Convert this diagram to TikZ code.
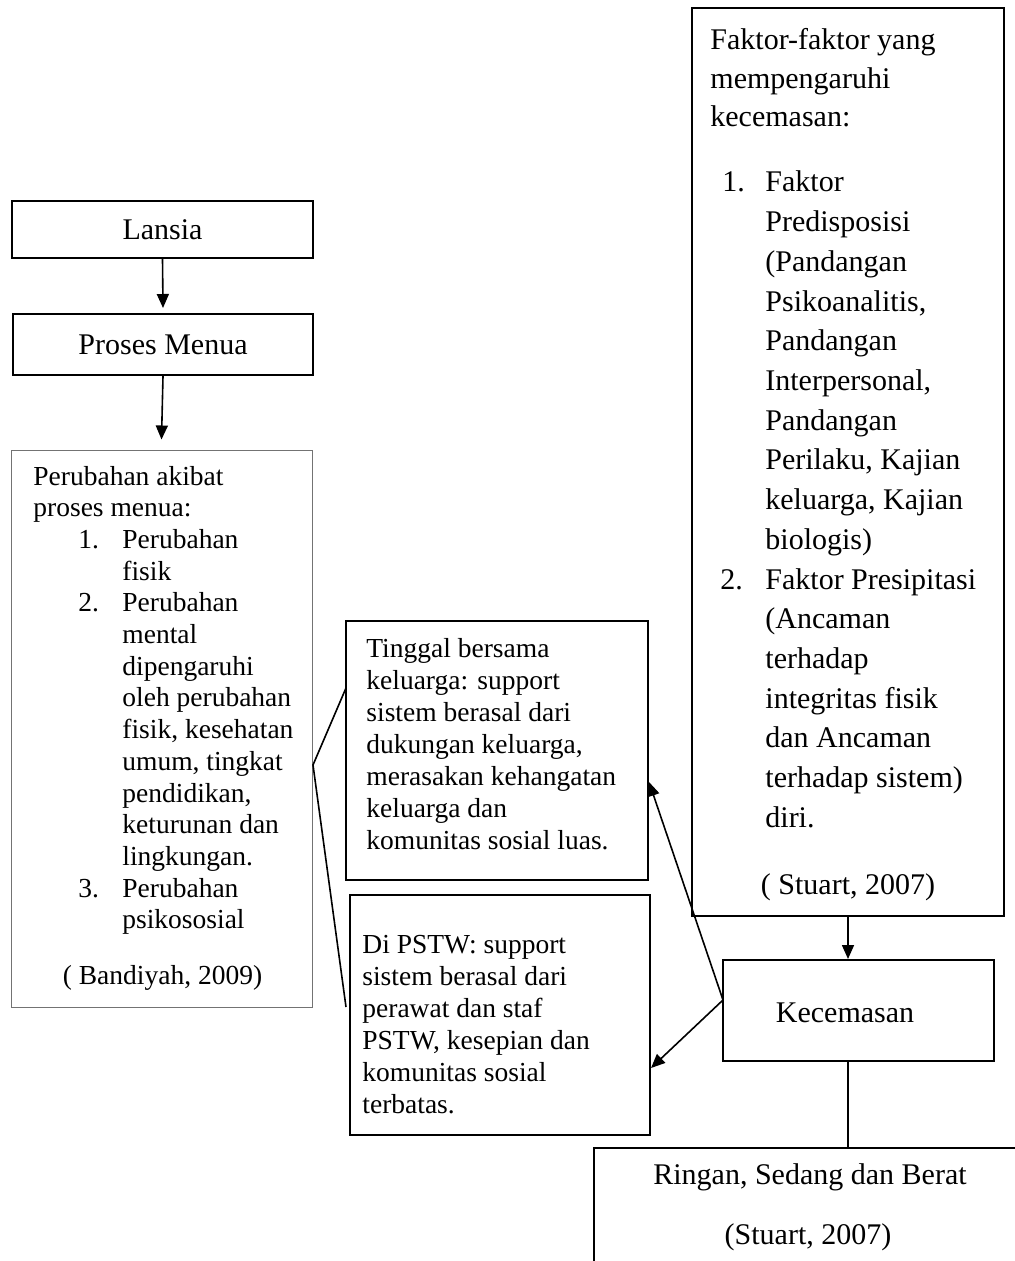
\documentclass[tikz,border=0pt]{standalone}
\usepackage{fontspec}
\setmainfont{Liberation Serif}
\usetikzlibrary{arrows.meta}
\begin{document}
\begin{tikzpicture}[x=0.5pt,y=-0.5pt,
  box/.style={draw, line width=1pt, inner sep=0pt},
  thinbox/.style={draw=black!55, line width=0.5pt, inner sep=0pt},
  small/.style={font=\fontsize{13.75pt}{16pt}\selectfont, inner sep=0pt},
  large/.style={font=\fontsize{15pt}{19pt}\selectfont, inner sep=0pt},
  arr/.style={line width=0.8pt, -{Triangle[length=7pt,width=6pt]}},
  ln/.style={line width=0.8pt}]
\useasboundingbox (0,0) rectangle (1015,1261);
\fill[white] (0,0) rectangle (1015,1261);

% boxes
\node[box, large, minimum width=150.5pt, minimum height=28.5pt] (lansia) at (162.5,229.5) {Lansia};
\node[box, large, minimum width=150pt, minimum height=30.5pt] (proses) at (163,344.5) {Proses Menua};
\node[thinbox, minimum width=150.5pt, minimum height=278.5pt] (perub) at (161.5,728.5) {};
\node[box, minimum width=151pt, minimum height=129.5pt] (tinggal) at (497,750.5) {};
\node[box, minimum width=150pt, minimum height=120pt] (pstw) at (500,1015) {};
\node[box, minimum width=156pt, minimum height=454pt] (faktor) at (848,462) {};
\node[box, minimum width=135.5pt, minimum height=50.5pt] (kecem) at (858.5,1010.5) {};
\node[box, minimum width=223pt, minimum height=76pt] (ringan) at (817,1224) {};

% left box text
\foreach \t [count=\i from 0] in {Perubahan akibat, proses menua:}
  \node[small, anchor=base west] (pa\i) at (33,485+31.7*\i) {\t};
\foreach \t [count=\i from 2] in {Perubahan, fisik, Perubahan, mental, dipengaruhi, oleh perubahan, {fisik, kesehatan}, {umum, tingkat}, {pendidikan,}, keturunan dan, lingkungan., Perubahan, psikososial}
  \node[small, anchor=base west] (pb\i) at (122,485+31.7*\i) {\t};
\node[small, anchor=base west] (n1) at (78,485+31.7*2) {1.};
\node[small, anchor=base west] (n2) at (78,485+31.7*4) {2.};
\node[small, anchor=base west] (n3) at (78,485+31.7*13) {3.};
\node[small, anchor=base] (band) at (162.5,984) {( Bandiyah, 2009)};

% tinggal box text
\foreach \t [count=\i from 0] in {Tinggal bersama, keluarga: support, sistem berasal dari, {dukungan keluarga,}, merasakan kehangatan, keluarga dan, komunitas sosial luas.}
  \node[small, anchor=base west] (tg\i) at (366,657+32*\i) {\t};

% pstw box text
\foreach \t [count=\i from 0] in {Di PSTW: support, sistem berasal dari, perawat dan staf, {PSTW, kesepian dan}, komunitas sosial, terbatas.}
  \node[small, anchor=base west] (ps\i) at (362,953+32*\i) {\t};

% right box text
\foreach \t [count=\i from 0] in {Faktor-faktor yang, mempengaruhi, kecemasan:}
  \node[large, anchor=base west] (fh\i) at (710,50+38.5*\i) {\t};
\foreach \t [count=\i from 0] in {Faktor, Predisposisi, {(Pandangan}, {Psikoanalitis,}, Pandangan, {Interpersonal,}, Pandangan, {Perilaku, Kajian}, {keluarga, Kajian}, {biologis)}, Faktor Presipitasi, {(Ancaman}, terhadap, integritas fisik, dan Ancaman, {terhadap sistem)}, diri.}
  \node[large, anchor=base west] (fl\i) at (765,192+39.7*\i) {\t};
\node[large, anchor=base west] (m1) at (722,192) {1.};
\node[large, anchor=base west] (m2) at (720,192+39.7*10) {2.};
\node[large, anchor=base] (st1) at (848,894) {( Stuart, 2007)};

% kecemasan and ringan text
\node[large] (kt) at (845,1013) {Kecemasan};
\node[large] (rt1) at (810,1177) {Ringan, Sedang dan Berat};
\node[large] (rt2) at (808,1237) {(Stuart, 2007)};

% connectors
\draw[arr] (lansia.south) -- ([yshift=2.5pt]proses.north);
\draw[arr] (proses.south) -- ([yshift=5pt]perub.north);
\draw[arr] (faktor.south) -- (faktor.south |- kecem.north);
\draw[ln] (faktor.south |- kecem.south) -- (faktor.south |- ringan.north);

\coordinate (v) at (313,765);
\coordinate (t1) at (346,688);
\coordinate (p1) at (346,1007);
\draw[ln] (t1) -- (v) -- (p1);

\coordinate (k0) at (723,1000);
\coordinate (t2) at (649,782);
\coordinate (p2) at (651,1068);
\draw[arr] (k0) -- (t2);
\draw[arr] (k0) -- (p2);
\end{tikzpicture}
\end{document}
